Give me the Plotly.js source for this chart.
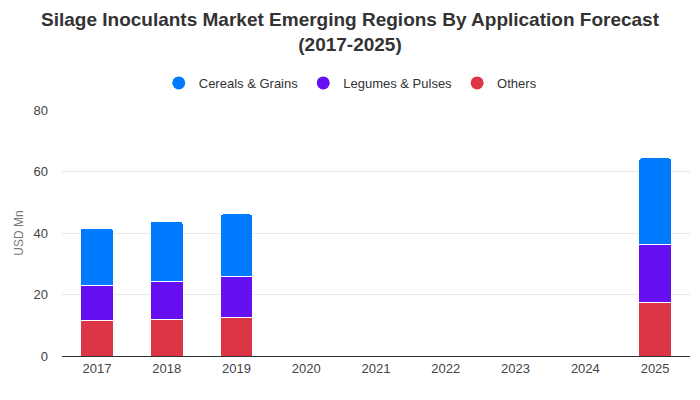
<!DOCTYPE html>
<html>
<head>
<meta charset="utf-8">
<script src="https://cdn.plot.ly/plotly-3.0.1.min.js"></script>
<style>html,body{margin:0;padding:0;background:#fff;}#chart{width:700px;height:400px;}</style>
</head>
<body>
<div id="chart"></div>
<script>
const years = ['2017','2018','2019','2020','2021','2022','2023','2024','2025'];
const others = [11.4, 12.0, 12.6, null, null, null, null, null, 17.5];
const legumes = [11.6, 12.3, 13.3, null, null, null, null, null, 18.7];
const cereals = [18.6, 19.6, 20.3, null, null, null, null, null, 28.2];
const seriesNames = ['Cereals & Grains', 'Legumes & Pulses', 'Others'];
const colors = {'Cereals & Grains': '#007bff', 'Legumes & Pulses': '#6610f2', 'Others': '#dc3545'};

const barTrace = (name, vals) => ({
  type: 'bar', x: years, y: vals, name: name, showlegend: false,
  marker: {color: colors[name], line: {color: '#ffffff', width: 1}},
  hoverinfo: 'x+y+name'
});
const traces = [
  barTrace('Others', others),
  barTrace('Legumes & Pulses', legumes),
  barTrace('Cereals & Grains', cereals)
];
seriesNames.forEach(n => traces.push({
  type: 'scatter', mode: 'markers', x: [null], y: [null], name: n, showlegend: true,
  marker: {color: colors[n], size: 13, symbol: 'circle'}
}));

const layout = {
  width: 700, height: 400,
  paper_bgcolor: '#fff', plot_bgcolor: '#fff',
  font: {family: 'Liberation Sans, Arial, sans-serif', color: '#333', size: 13},
  title: {text: '<b>Silage Inoculants Market Emerging Regions By Application Forecast<br>(2017-2025)</b>',
          x: 0.5, xanchor: 'center', xref: 'container', y: 0.935, yanchor: 'middle', yref: 'container',
          font: {size: 19, color: '#333', family: 'Liberation Sans, Arial, sans-serif'}},
  barmode: 'stack', bargap: 0.53, barcornerradius: 3,
  margin: {l: 62, r: 10, t: 110, b: 44},
  legend: {orientation: 'h', x: 0.459, xanchor: 'center', y: 1.11, yanchor: 'middle',
           font: {size: 13, color: '#333'}, itemwidth: 30, traceorder: 'normal'},
  xaxis: {type: 'category', categoryorder: 'array', categoryarray: years,
          showline: true, linecolor: '#333', linewidth: 1, ticks: '', showgrid: false,
          tickfont: {size: 13, color: '#444'}},
  yaxis: {range: [0, 80], dtick: 20, showgrid: true, gridcolor: '#e6e6e6', zeroline: false,
          showline: false, ticks: '', ticklabelstandoff: 13,
          tickfont: {size: 13, color: '#444'},
          title: {text: 'USD Mn', font: {size: 12, color: '#777'}, standoff: 7}}
};
Plotly.newPlot('chart', traces, layout, {displayModeBar: false});
</script>
</body>
</html>
